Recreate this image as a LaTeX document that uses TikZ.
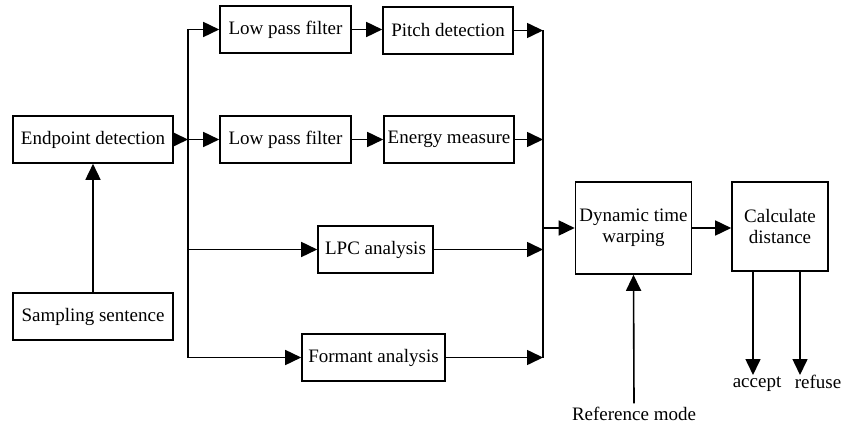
\documentclass[tikz,border=0pt]{standalone}
\usepackage{fontspec}
\setmainfont{Liberation Serif}
\usetikzlibrary{arrows.meta}

\begin{document}
\begin{tikzpicture}[x=1pt, y=-1pt,
  every node/.style={font=\fontsize{19}{21}\selectfont},
  block/.style={draw, line width=1.6pt, minimum height=47pt, inner sep=2pt, align=center},
  flow/.style={line width=1.6pt, -{Triangle[length=16pt, width=15pt]}},
  wire/.style={line width=1.6pt}]
  \useasboundingbox (0,0) rectangle (842,427);

  % Input side
  \node[block, minimum width=160pt] (endp) at (93,139.5) {Endpoint detection};
  \node[block, minimum width=160pt] (samp) at (93,316.5) {Sampling sentence};

  % Feature branches
  \node[block, minimum width=131pt] (lpfa) at (285.5,29.5) {Low pass filter};
  \node[block, minimum width=130pt] (pitch) at (448,30.5) {Pitch detection};
  \node[block, minimum width=131pt] (lpfb) at (285.5,139.5) {Low pass filter};
  \node[block, minimum width=130pt] (energy) at (449,139.5) {Energy measure};
  \node[block, minimum width=115pt] (lpc) at (375.5,249.5) {LPC analysis};
  \node[block, minimum width=143pt] (formant) at (373.5,357.5) {Formant analysis};

  % Matching
  \node[block, minimum width=116pt, minimum height=92pt] (dtw) at (633.5,228) {Dynamic time\\warping};
  \node[block, minimum width=96pt, minimum height=89pt] (calc) at (780,226.5) {Calculate\\distance};

  % Outside labels
  \node[anchor=base, inner sep=3pt] (refm) at (634,420) {Reference mode};
  \node[anchor=base] (acc) at (757,387) {accept};
  \node[anchor=base] (rej) at (818,388) {refuse};

  % Bus lines
  \coordinate (busl) at (188,0);
  \coordinate (busr) at (543,0);
  \coordinate (acctip) at (753,375);
  \coordinate (rejtip) at (800,375);

  \draw[flow] (samp) -- (endp);
  \draw[flow] (endp.east) -- (endp.east -| busl);
  \draw[wire] (lpfa.west -| busl) -- (formant.west -| busl);
  \draw[flow] (lpfa.west -| busl) -- (lpfa.west);
  \draw[flow] (endp.east -| busl) -- (lpfb.west);
  \draw[flow] (lpc.west -| busl) -- (lpc.west);
  \draw[flow] (formant.west -| busl) -- (formant.west);

  \draw[flow] (lpfa) -- (lpfa.east -| pitch.west);
  \draw[flow] (lpfb) -- (energy);

  \draw[wire] (pitch.east -| busr) -- (formant.east -| busr);
  \draw[flow] (pitch.east) -- (pitch.east -| busr);
  \draw[flow] (energy.east) -- (energy.east -| busr);
  \draw[flow] (lpc.east) -- (lpc.east -| busr);
  \draw[flow] (formant.east) -- (formant.east -| busr);

  \draw[flow] (dtw.west -| busr) -- (dtw.west);
  \draw[flow] (dtw.east) -- (dtw.east -| calc.west);
  \draw[flow] (refm.north) -- (dtw.south);
  \draw[flow] (calc.south -| acctip) -- (acctip);
  \draw[flow] (calc.south -| rejtip) -- (rejtip);
\end{tikzpicture}
\end{document}
